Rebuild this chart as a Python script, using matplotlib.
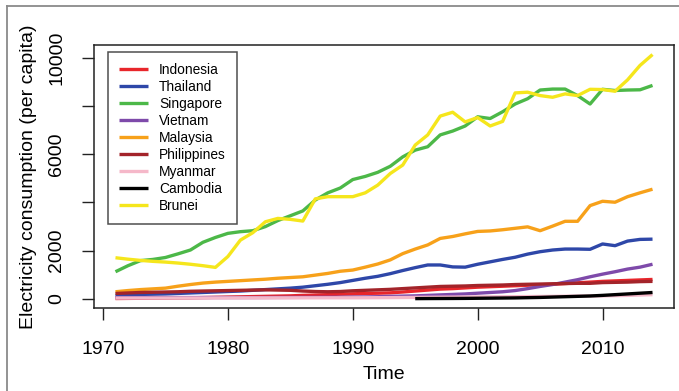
import matplotlib
matplotlib.use("Agg")
import matplotlib.pyplot as plt
from matplotlib.lines import Line2D
import numpy as np

plt.rcParams['font.family'] = ['Liberation Sans', 'DejaVu Sans']

years = list(range(1971, 2015))

indonesia = [20, 25, 30, 35, 40, 45, 50, 60, 70, 80, 90, 100, 110, 120, 130, 150, 165, 180, 200, 215,
             230, 240, 255, 290, 330, 370, 410, 430, 460, 490, 510, 530, 550, 570, 590, 610, 640, 670,
             700, 730, 750, 770, 790, 810]
thailand = [150, 170, 190, 200, 210, 230, 250, 270, 290, 310, 330, 360, 390, 420, 450, 490, 550, 610,
            680, 770, 860, 940, 1050, 1180, 1300, 1410, 1410, 1330, 1320, 1440, 1540, 1640, 1730, 1860,
            1960, 2030, 2070, 2070, 2060, 2280, 2210, 2400, 2470, 2480]
singapore = [1130, 1380, 1590, 1640, 1720, 1870, 2030, 2350, 2550, 2720, 2790, 2830, 3000, 3250, 3450,
             3650, 4100, 4400, 4600, 4950, 5080, 5250, 5500, 5890, 6170, 6310, 6800, 6960, 7170, 7550,
             7480, 7760, 8080, 8300, 8660, 8700, 8700, 8430, 8080, 8690, 8640, 8660, 8670, 8850]
vietnam = [60, 60, 60, 60, 60, 60, 60, 60, 60, 60, 60, 60, 62, 64, 66, 68, 70, 72, 75, 80,
           85, 95, 110, 120, 130, 150, 170, 190, 210, 240, 270, 300, 350, 430, 520, 600, 700, 800,
           920, 1030, 1130, 1240, 1320, 1440]
malaysia = [300, 350, 390, 420, 450, 530, 600, 660, 700, 730, 760, 790, 820, 860, 890, 920, 990, 1060,
            1150, 1200, 1320, 1450, 1620, 1880, 2070, 2240, 2510, 2590, 2700, 2800, 2820, 2870, 2930,
            2990, 2830, 3020, 3220, 3220, 3870, 4050, 4010, 4240, 4400, 4550]
philippines = [230, 250, 270, 280, 290, 300, 320, 330, 340, 350, 360, 370, 380, 370, 360, 330, 310, 300,
               310, 340, 360, 380, 400, 430, 460, 490, 520, 530, 540, 560, 570, 580, 600, 610, 620, 630,
               640, 650, 650, 680, 690, 700, 720, 730]
myanmar = [40, 40, 41, 41, 42, 42, 43, 43, 44, 45, 46, 47, 47, 48, 48, 49, 49, 50, 50, 50,
           52, 55, 58, 62, 66, 70, 74, 78, 80, 84, 88, 92, 96, 100, 105, 110, 115, 120, 125, 130,
           140, 150, 165, 180]
cambodia_years = list(range(1995, 2015))
cambodia = [15, 18, 20, 22, 25, 30, 35, 40, 45, 55, 65, 80, 95, 110, 125, 150, 180, 210, 240, 270]
brunei = [1710, 1650, 1600, 1560, 1530, 1490, 1440, 1380, 1310, 1760, 2440, 2750, 3200, 3340, 3300,
          3230, 4150, 4240, 4240, 4240, 4400, 4720, 5200, 5550, 6380, 6800, 7580, 7740, 7340, 7520,
          7170, 7360, 8540, 8570, 8430, 8360, 8500, 8430, 8690, 8680, 8610, 9080, 9680, 10130]

series = [
    ("Indonesia", years, indonesia, "#E8262B"),
    ("Thailand", years, thailand, "#2E47A8"),
    ("Singapore", years, singapore, "#4CB848"),
    ("Vietnam", years, vietnam, "#7E4AAA"),
    ("Malaysia", years, malaysia, "#F7A11A"),
    ("Philippines", years, philippines, "#A3242A"),
    ("Myanmar", years, myanmar, "#F5B8C9"),
    ("Cambodia", cambodia_years, cambodia, "#000000"),
    ("Brunei", years, brunei, "#F5E61C"),
]

W, H = 679, 391
fig = plt.figure(figsize=(W / 100, H / 100), dpi=100)
ax = fig.add_axes([94 / W, 1 - 308 / H, 580 / W, 263 / H])

for name, xs, ys, col in series:
    ax.plot(xs, ys, color=col, lw=2.4, label=name, solid_capstyle='butt')

ax.set_xlim(1969.28, 2015.72)
ax.set_ylim(-373, 10526)

ax.set_xticks([1970, 1980, 1990, 2000, 2010])
ax.set_yticks([0, 2000, 4000, 6000, 8000, 10000])
ax.set_yticklabels(["0", "2000", "", "6000", "", "10000"], rotation=90, va='center')
ax.tick_params(axis='both', direction='out', length=8.6, width=1, labelsize=14, color='#222222')
ax.tick_params(axis='x', pad=15)
ax.tick_params(axis='y', pad=12)
for s in ax.spines.values():
    s.set_linewidth(1.1)
    s.set_color('#222222')

ax.set_xlabel("Time", fontsize=14, labelpad=6)
ax.set_ylabel("Electricity consumption (per capita)", fontsize=14, labelpad=8)

leg = ax.legend(loc='upper left', bbox_to_anchor=(0.0241, 0.9734), borderaxespad=0,
                fontsize=9.9, frameon=True, fancybox=False, handlelength=2.1,
                handletextpad=0.8, labelspacing=0.22, borderpad=0.8)
leg.get_frame().set_edgecolor('#222222')
leg.get_frame().set_linewidth(1.1)
for line in leg.get_lines():
    line.set_linewidth(2.4)

# outer figure frame (left and top edges visible)
fig.add_artist(Line2D([7 / W, 7 / W], [0, 1 - 6 / H], transform=fig.transFigure,
                      color='#8a8a8a', lw=1.3))
fig.add_artist(Line2D([7 / W, 1], [1 - 6 / H, 1 - 6 / H], transform=fig.transFigure,
                      color='#8a8a8a', lw=1.3))

fig.savefig("out.png", dpi=100)
